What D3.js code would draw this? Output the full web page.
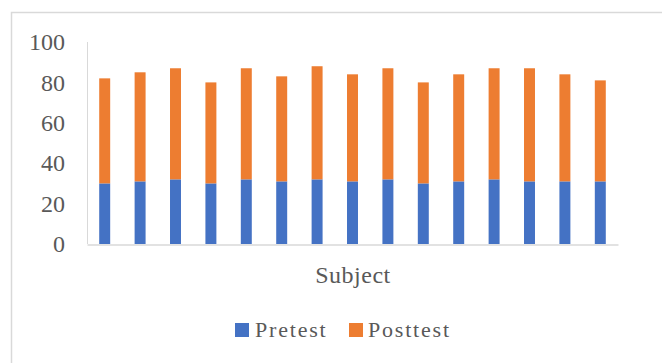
<!DOCTYPE html>
<html>
<head>
<meta charset="utf-8">
<script src="https://cdn.jsdelivr.net/npm/d3@7/dist/d3.min.js"></script>
<style>
  html, body { margin: 0; padding: 0; background: #fff; }
  svg { display: block; }
  text { font-family: "Liberation Serif", "DejaVu Serif", serif; fill: #595959; }
</style>
</head>
<body>
<svg id="chart" width="662" height="363"></svg>
<script>
// Scores per subject (15 subjects)
const subjects = d3.range(1, 16).map(String);
const pretest  = [30, 31, 32, 30, 32, 31, 32, 31, 32, 30, 31, 32, 31, 31, 31];
const posttest = [52, 54, 55, 50, 55, 52, 56, 53, 55, 50, 53, 55, 56, 53, 50];
const yTicks   = [0, 20, 40, 60, 80, 100];
const seriesNames = ["Pretest", "Posttest"];
const colors = ["#4472C4", "#ED7D31"];

const rows = subjects.map((s, i) => ({ subject: s, Pretest: pretest[i], Posttest: posttest[i] }));
const stacked = d3.stack().keys(seriesNames)(rows);

const svg = d3.select("#chart");
const W = 662, H = 363;
const plot = { left: 87, right: 618, top: 42, bottom: 244 };
const serif = "Liberation Serif, DejaVu Serif, serif";

// Outer chart frame (left and top edges visible)
svg.append("path")
  .attr("d", `M11.5,${H} V12.5 H${W}`)
  .attr("fill", "none")
  .attr("stroke", "#d9d9d9")
  .attr("stroke-width", 1.5);

const x = d3.scaleBand().domain(subjects).range([plot.left, plot.right]).paddingInner(0.69).paddingOuter(0.345);
const y = d3.scaleLinear().domain([0, 100]).range([plot.bottom, plot.top]);

// Y axis labels
const yAxis = d3.axisLeft(y).tickValues(yTicks).tickSize(0).tickPadding(22);
const gy = svg.append("g").attr("transform", `translate(${plot.left},0)`).call(yAxis);
gy.attr("font-family", serif);
gy.select(".domain").remove();
gy.selectAll("text").style("font-size", "24px").style("font-family", serif).attr("fill", "#595959");

// Y axis line
svg.append("line")
  .attr("x1", plot.left + 0.5).attr("x2", plot.left + 0.5)
  .attr("y1", plot.top).attr("y2", plot.bottom)
  .attr("stroke", "#d9d9d9").attr("stroke-width", 1);

// Stacked bars
svg.append("g").selectAll("g")
  .data(stacked)
  .join("g")
  .attr("fill", (d, i) => colors[i])
  .selectAll("rect")
  .data(d => d)
  .join("rect")
  .attr("x", d => x(d.data.subject))
  .attr("width", x.bandwidth())
  .attr("y", d => y(d[1]))
  .attr("height", d => y(d[0]) - y(d[1]));

// X axis baseline
const xAxis = d3.axisBottom(x).tickSize(0).tickFormat("");
const gx = svg.append("g").attr("transform", `translate(0,${plot.bottom + 0.5})`).call(xAxis);
gx.select(".domain").attr("stroke", "#d9d9d9").attr("stroke-width", 1.5);

// Axis title
svg.append("text")
  .attr("x", (plot.left + plot.right) / 2 + 0.5)
  .attr("y", 283)
  .attr("text-anchor", "middle")
  .style("font-size", "24px")
  .style("letter-spacing", "0.5px")
  .text("Subject");

// Legend
const legend = svg.append("g");
const legendItems = [
  { name: seriesNames[0], color: colors[0], sx: 235, tx: 255 },
  { name: seriesNames[1], color: colors[1], sx: 349, tx: 368 }
];
legendItems.forEach(it => {
  legend.append("rect").attr("x", it.sx).attr("y", 323).attr("width", 14).attr("height", 14).attr("fill", it.color);
  legend.append("text").attr("x", it.tx).attr("y", 337)
    .style("font-size", "22px").style("letter-spacing", "1.8px").text(it.name);
});
</script>
</body>
</html>
